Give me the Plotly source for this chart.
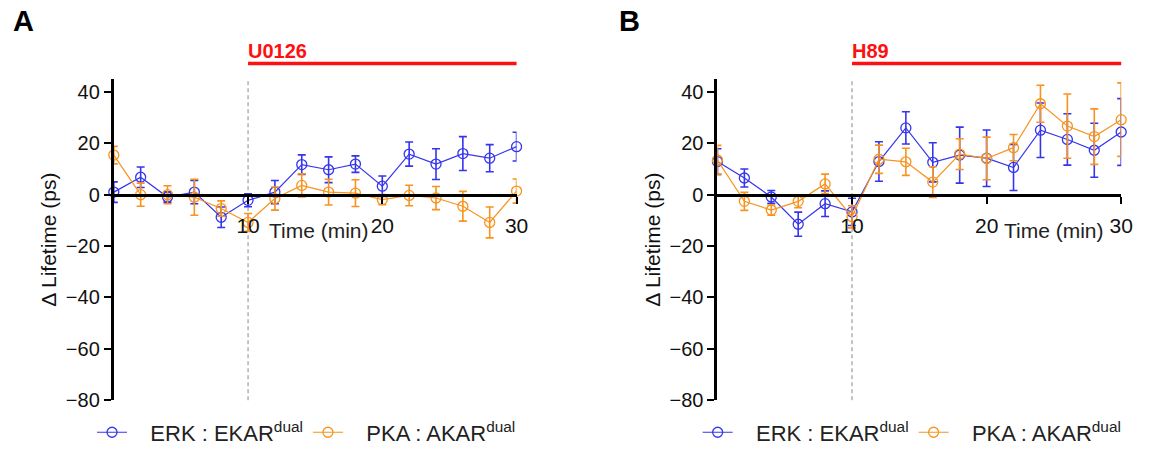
import plotly.graph_objects as go

# ---------------- data ----------------
time_min = [0, 2, 4, 6, 8, 10, 12, 14, 16, 18, 20, 22, 24, 26, 28, 30]

erk_A = [1.0, 6.8, -0.9, 1.0, -8.8, -2.2, 1.0, 11.7, 9.7, 11.9, 3.3, 15.8, 11.9, 16.0, 14.2, 18.7]
erk_A_err = [4.0, 4.0, 2.0, 4.5, 4.0, 2.5, 4.5, 3.8, 5.0, 3.2, 4.0, 4.7, 6.0, 6.6, 5.3, 5.6]
pka_A = [15.4, 0.0, 0.0, -1.0, -5.4, -10.8, -1.5, 3.6, 1.0, 0.6, -1.9, -0.3, -1.3, -4.5, -10.8, 1.4]
pka_A_err = [3.4, 4.5, 3.5, 7.0, 3.0, 3.5, 4.5, 4.5, 5.0, 5.2, 2.0, 4.0, 4.5, 5.8, 6.0, 4.7]

erk_B = [12.9, 6.5, -0.9, -11.5, -3.5, -6.7, 12.9, 26.0, 12.6, 15.4, 14.2, 10.6, 25.1, 21.5, 17.3, 24.4]
erk_B_err = [5.0, 3.5, 2.5, 4.7, 5.0, 5.3, 7.7, 6.3, 7.6, 10.9, 11.0, 9.0, 10.6, 10.0, 10.5, 13.0]
pka_B = [13.5, -2.6, -6.0, -2.6, 4.2, -8.6, 13.8, 12.8, 4.9, 15.8, 14.1, 18.3, 35.4, 26.7, 22.6, 29.2]
pka_B_err = [5.7, 3.5, 2.0, 2.5, 3.8, 4.3, 5.5, 5.3, 6.0, 6.0, 8.3, 5.1, 7.2, 12.5, 10.8, 14.3]

series_names = ["ERK : EKAR<sup>dual</sup>", "PKA : AKAR<sup>dual</sup>"]
drug_labels = ["U0126", "H89"]
panel_labels = ["A", "B"]
x_tick_vals = [10, 20, 30]
y_tick_vals = [-80, -60, -40, -20, 0, 20, 40]
drug_start, drug_end = 10, 30

# ---------------- style ----------------
BLUE = "#3535ee"
ORANGE = "#f7931e"
RED = "#ff1010"
FONT = "Arial, Liberation Sans, sans-serif"
FW, FH = 1152, 461


def px(x):  # page pixel -> paper fraction (x)
    return x / FW


def py(y):  # page pixel -> paper fraction (y)
    return 1 - y / FH


xdomA = [px(115), px(522)]
xdomB = [px(725), px(1133)]
ydom = [py(410), py(81)]
yrange = [-80, 45]
zero_pos = ydom[0] + (0 - yrange[0]) / (yrange[1] - yrange[0]) * (ydom[1] - ydom[0])

fig = go.Figure()


def add_series(y, err, color, name, xa, ya, legend):
    fig.add_trace(go.Scatter(
        x=time_min, y=y, name=name, mode="lines+markers",
        line=dict(color=color, width=1.2),
        marker=dict(symbol="circle-open", size=10, color=color, line=dict(width=1.3, color=color)),
        error_y=dict(type="data", array=err, visible=True, color=color, thickness=1.6, width=4),
        xaxis=xa, yaxis=ya, legend=legend, cliponaxis=False,
    ))


NB = "\u00a0\u00a0\u00a0"
add_series(erk_A, erk_A_err, BLUE, NB + series_names[0], "x", "y", "legend")
add_series(pka_A, pka_A_err, ORANGE, NB + series_names[1], "x", "y", "legend")
add_series(erk_B, erk_B_err, BLUE, NB + series_names[0], "x2", "y2", "legend2")
add_series(pka_B, pka_B_err, ORANGE, NB + series_names[1], "x2", "y2", "legend2")

xaxis_common = dict(
    range=[0, 30], anchor="free", position=zero_pos,
    showline=True, linecolor="black", linewidth=3,
    ticks="outside", ticklen=7, tickwidth=2, tickcolor="black",
    tickvals=x_tick_vals, showgrid=False, zeroline=False,
    tickfont=dict(family=FONT, size=21, color="#111"),
    ticklabelstandoff=4,
)
yaxis_common = dict(
    range=yrange, domain=ydom,
    showline=True, linecolor="black", linewidth=3,
    ticks="outside", ticklen=7, tickwidth=2, tickcolor="black",
    tickvals=y_tick_vals, showgrid=False, zeroline=False,
    tickfont=dict(family=FONT, size=20, color="#111"),
    title=dict(text="\u0394 Lifetime (ps)", font=dict(family=FONT, size=21, color="#111"), standoff=4),
)

legend_common = dict(orientation="h", y=py(443), xanchor="left", yanchor="middle",
                     font=dict(family=FONT, size=22, color="#222"), bgcolor="rgba(0,0,0,0)")

fig.update_layout(
    width=FW, height=FH,
    margin=dict(l=0, r=0, t=0, b=0),
    paper_bgcolor="white", plot_bgcolor="white",
    font=dict(family=FONT, color="black"),
    xaxis=dict(domain=xdomA, **xaxis_common),
    yaxis=dict(anchor="x", **yaxis_common),
    xaxis2=dict(domain=xdomB, **xaxis_common),
    yaxis2=dict(anchor="x2", **yaxis_common),
    legend=dict(x=px(93), **legend_common),
    legend2=dict(x=px(705), **legend_common),
    showlegend=True,
)

for i, (xa, ya) in enumerate([("x", "y"), ("x2", "y2")]):
    # dashed drug-onset line
    fig.add_shape(type="line", xref=xa, yref=ya + " domain", x0=drug_start, x1=drug_start, y0=0, y1=1,
                  line=dict(color="#8a8a8a", width=1, dash="4px,3px"), layer="below")
    # red treatment bar
    fig.add_shape(type="line", xref=xa, yref="paper", x0=drug_start, x1=drug_end + 0.3,
                  y0=py(65), y1=py(65), line=dict(color=RED, width=3.5))
    fig.add_annotation(text="<b>" + drug_labels[i] + "</b>", xref=xa, yref="paper",
                       x=drug_start, y=py(52), xanchor="left", yanchor="middle", showarrow=False,
                       xshift=-2, font=dict(family=FONT, size=20, color=RED))
    fig.add_annotation(text="Time (min)", xref=xa, yref="paper",
                       x=[15.3, 25.0][i], y=py(236), xanchor="center", yanchor="middle",
                       showarrow=False, font=dict(family=FONT, size=21, color="#222"))

for lab, xx in zip(panel_labels, [24, 636]):
    fig.add_annotation(text="<b>" + lab + "</b>", xref="paper", yref="paper",
                       x=px(xx), y=py(22), xanchor="center", yanchor="middle", showarrow=False,
                       font=dict(family=FONT, size=29, color="black"))

page_css = ("document.documentElement.style.margin='0';document.body.style.margin='0';"
            "document.documentElement.style.overflow='hidden';document.body.style.overflow='hidden';")
fig.write_html("out.html", post_script=page_css, config={"displayModeBar": False})
